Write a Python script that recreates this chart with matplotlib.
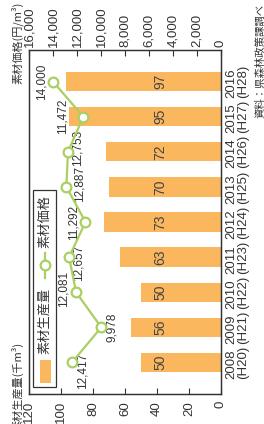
import matplotlib
matplotlib.use("Agg")
import matplotlib.pyplot as plt
from matplotlib import font_manager
from matplotlib.patches import Rectangle
from matplotlib.lines import Line2D

# --- DATA ---
years = ['2008\n(H20)', '2009\n(H21)', '2010\n(H22)', '2011\n(H23)', '2012\n(H24)',
         '2013\n(H25)', '2014\n(H26)', '2015\n(H27)', '2016\n(H28)']
production = [50, 56, 50, 63, 73, 70, 72, 95, 97]          # 千m3
price = [12417, 9978, 12081, 12657, 11292, 12887, 12753, 11472, 14000]  # 円/m3
prod_ticks = [0, 20, 40, 60, 80, 100, 120]
price_ticks = [0, 2000, 4000, 6000, 8000, 10000, 12000, 14000, 16000]

# label offsets for price values (image pixels: right, up)
price_offsets = [(11, -8), (11, 0), (-12, 3), (9, -6), (-12, 0),
                 (13, 3), (10, 4), (-21, 0), (-11, 0)]

# --- STYLE ---
names = {f.name for f in font_manager.fontManager.ttflist}
NUM_FONT = 'Liberation Sans Narrow' if 'Liberation Sans Narrow' in names else 'Liberation Sans'
JP = ['Noto Sans CJK JP', 'DejaVu Sans']
BAR_COLOR = '#FAB75E'
LINE_COLOR = '#AACF62'
TXT = '#333333'

W, H = 264, 424
fig = plt.figure(figsize=(W / 100, H / 100), dpi=100)


def fx(x):
    return x / W


def fy(y):
    return 1 - y / H


ax = fig.add_axes([fx(29), fy(394), fx(221) - fx(29), fy(50) - fy(394)])
pos = list(range(len(years)))

ax.barh(pos, production, height=0.55, color=BAR_COLOR, zorder=2)
ax.set_xlim(120, 0)
ax.set_ylim(-0.9, len(years) - 0.1)
ax.set_xticks(prod_ticks)
ax.set_xticklabels([str(t) for t in prod_ticks], rotation=90, fontfamily=NUM_FONT,
                   fontsize=9.5, color=TXT)
ax.tick_params(axis='x', direction='in', length=4, pad=5, colors=TXT)
ax.yaxis.tick_right()
ax.set_yticks(pos)
ax.set_yticklabels(years, rotation=90, fontfamily=NUM_FONT, fontsize=9.5, color=TXT,
                   va='center', ha='left', linespacing=0.95)
ax.tick_params(axis='y', length=0, pad=3)

for i, v in enumerate(production):
    ax.text(38, i, str(v), rotation=90, ha='center', va='center',
            fontfamily=NUM_FONT, fontsize=10, color='#444444', zorder=3)

ax2 = ax.twiny()
ax2.set_xlim(16000, 0)
ax2.set_xticks(price_ticks)
ax2.set_xticklabels([f'{t:,}' for t in price_ticks], rotation=90, fontfamily=NUM_FONT,
                    fontsize=9.5, color=TXT)
ax2.tick_params(axis='x', direction='in', length=4, pad=2, colors=TXT)
ax2.plot(price, pos, color=LINE_COLOR, lw=1.6, marker='o', ms=7,
         mfc='white', mec=LINE_COLOR, mew=1.6, zorder=4)
for i, v in enumerate(price):
    dx, dy = price_offsets[i]
    ax2.annotate(f'{v:,}', (v, i), xytext=(dx, dy), textcoords='offset pixels',
                 rotation=90, ha='center', va='center', fontfamily=NUM_FONT,
                 fontsize=8.5, color=TXT)

for a in (ax, ax2):
    for s in a.spines.values():
        s.set_color(TXT)
        s.set_linewidth(0.9)

# axis titles
fig.text(fx(17.5), fy(43), '素材価格(円/m³)', rotation=90, ha='center', va='center',
         family=JP, fontsize=8, color=TXT)
fig.text(fx(17.5), fy(342), '素材生産量(千m³)', rotation=90, ha='center', va='top',
         family=JP, fontsize=8, color=TXT)
fig.text(fx(260), fy(4), '資料：県森林政策課調べ', rotation=90, ha='center', va='top',
         family=JP, fontsize=7.5, color=TXT)

# legend, drawn rotated
fig.add_artist(Rectangle((fx(33), fy(387)), fx(56) - fx(33), fy(190) - fy(387),
                         transform=fig.transFigure, facecolor='white',
                         edgecolor=TXT, lw=0.9, zorder=5))
fig.add_artist(Rectangle((fx(40), fy(383)), fx(51) - fx(40), fy(360) - fy(383),
                         transform=fig.transFigure, facecolor=BAR_COLOR,
                         edgecolor='none', zorder=6))
fig.text(fx(45), fy(321), '素材生産量', rotation=90, ha='center', va='center',
         family=JP, fontsize=9.5, color=TXT, zorder=6)
fig.add_artist(Line2D([fx(45), fx(45)], [fy(278), fy(253)], transform=fig.transFigure,
                      color=LINE_COLOR, lw=1.6, zorder=6))
fig.add_artist(Line2D([fx(45)], [fy(265)], transform=fig.transFigure, marker='o',
                      ms=7, mfc='white', mec=LINE_COLOR, mew=1.6, zorder=7))
fig.text(fx(45), fy(221), '素材価格', rotation=90, ha='center', va='center',
         family=JP, fontsize=9.5, color=TXT, zorder=6)

fig.savefig('out.png', dpi=100)
